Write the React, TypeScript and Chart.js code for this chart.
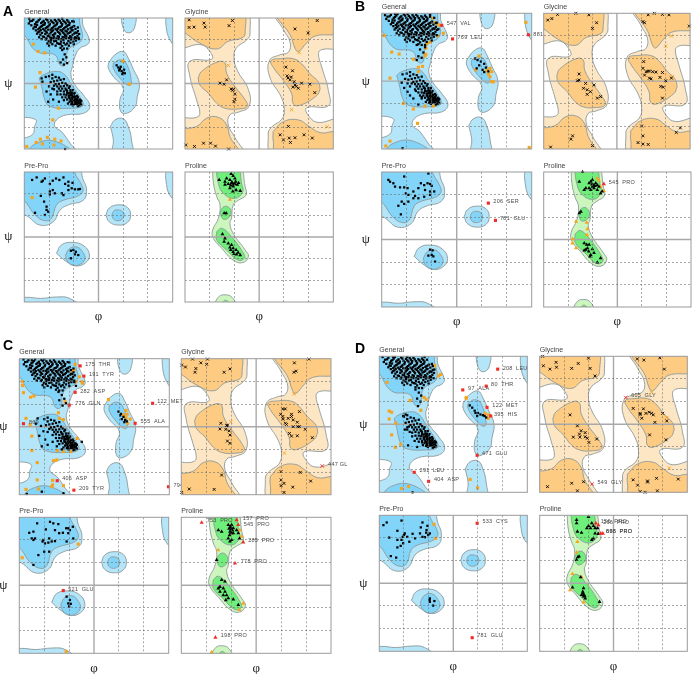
import { useEffect, useRef } from "react";
import { Chart, registerables } from "chart.js";
Chart.register(...registerables);

type P = number[];
type L = [string, number, number];

// ---- allowed (outer) and favoured (inner) contours, in phi/psi degrees
const generalOuter: P[][] = [
  [[-195,195],[-47,195],[-37,157],[-22,120],[-27,107],[-45,97],[-57,74],[-63,47],[-67,24],[-57,-4],[-37,-31],[-21,-63],[-37,-82],[-77,-86],[-102,-100],[-106,-118],[-90,-132],[-69,-164],[-50,-195],[-195,-195],[-195,-160],[-160,-140],[-155,-118],[-152,-100],[-195,-80]],
  [[24,56],[40,79],[60,88],[72,70],[85,38],[99,1],[94,-36],[89,-63],[68,-82],[54,-77],[52,-45],[60,-13],[36,19],[24,42]],
  [[54,195],[87,195],[87,152],[72,139],[60,152]],
  [[29,-118],[40,-100],[60,-97],[72,-118],[80,-155],[80,-195],[36,-195],[36,-155]],
  [[195,195],[170,195],[164,157],[178,111],[195,100]],
  [[195,-165],[170,-195],[195,-195]],
];
const generalInner: P[][] = [
  [[-195,195],[-55,195],[-45,162],[-41,120],[-73,93],[-81,51],[-93,51],[-106,79],[-150,88],[-180,134],[-195,150]],
  [[-144,15],[-134,24],[-106,33],[-85,27],[-65,-4],[-41,-45],[-38,-61],[-65,-68],[-118,-63],[-130,-45],[-138,-8]],
  [[-180,-195],[-150,-164],[-102,-160],[-62,-195]],
  [[36,56],[52,65],[67,56],[80,1],[72,-5],[52,15],[36,42]],
];
const glycineOuter: P[][] = [
  [[-195,195],[-34,195],[-22,139],[-30,120],[-55,98],[-61,70],[-53,36],[-26,-17],[-25,-63],[-51,-79],[-71,-86],[-75,-114],[-59,-148],[-40,-195],[-195,-195],[-195,-102],[-152,-93],[-144,-82],[-152,-45],[-168,19],[-168,61],[-115,67],[-123,93],[-144,107],[-195,102]],
  [[195,-195],[34,-195],[22,-139],[30,-120],[55,-98],[61,-70],[53,-36],[26,17],[25,63],[51,79],[71,86],[75,114],[59,148],[40,195],[195,195],[195,102],[152,93],[144,82],[152,45],[168,-19],[168,-61],[115,-67],[123,-93],[144,-107],[195,-102]],
];
const glycineInner: P[][] = [
  [[-195,195],[-43,195],[-34,139],[-42,125],[-75,116],[-103,95],[-144,111],[-180,139],[-195,150]],
  [[-148,15],[-140,33],[-99,60],[-83,56],[-79,28],[-59,-8],[-34,-45],[-29,-63],[-51,-70],[-83,-68],[-103,-54],[-123,-27],[-144,-4]],
  [[-195,-125],[-152,-118],[-127,-95],[-99,-93],[-79,-114],[-71,-146],[-50,-195],[-195,-195]],
  [[38,195],[44,180],[75,134],[87,97],[95,88],[115,111],[135,130],[180,134],[195,135],[195,195]],
  [[148,-15],[140,-33],[99,-60],[83,-56],[79,-28],[59,8],[34,45],[29,63],[51,68],[83,68],[103,54],[123,27],[144,4]],
  [[34,-132],[59,-105],[95,-100],[119,-116],[148,-135],[180,-132],[195,-132],[195,-195],[44,-195],[34,-155]],
];
const preProOuter: P[][] = [
  [[-195,195],[-52,195],[-37,158],[-29,130],[-37,102],[-73,89],[-93,75],[-110,42],[-142,33],[-170,56],[-195,75]],
  [[18,61],[26,80],[48,89],[70,82],[78,61],[70,40],[48,33],[26,42]],
  [[-102,-45],[-90,-22],[-62,-15],[-35,-25],[-22,-50],[-32,-72],[-56,-80],[-78,-68]],
  [[-195,-172],[-175,-167],[-140,-170],[-100,-166],[-70,-170],[-45,-195],[-195,-195]],
  [[195,190],[168,190],[165,145],[178,108],[195,104]],
];
const preProInner: P[][] = [
  [[-195,195],[-70,195],[-53,167],[-41,144],[-38,126],[-53,112],[-85,102],[-102,89],[-114,52],[-130,45],[-154,61],[-174,93],[-195,120]],
  [[32,60],[38,73],[48,75],[58,71],[62,60],[57,49],[47,45],[37,49]],
  [[-80,-50],[-70,-32],[-52,-28],[-38,-42],[-33,-60],[-45,-76],[-62,-78],[-76,-66]],
];
const prolineOuter: P[][] = [
  [[-113,195],[-49,195],[-34,139],[-32,116],[-50,102],[-63,89],[-67,52],[-71,38],[-63,10],[-34,-36],[-26,-54],[-40,-71],[-63,-64],[-91,-31],[-111,-4],[-113,19],[-99,52],[-95,89],[-103,112],[-111,149]],
  [[-111,-195],[-100,-168],[-85,-160],[-65,-168],[-58,-195]],
];
const prolineInner: P[][] = [
  [[-105,195],[-55,195],[-42,145],[-40,125],[-59,107],[-87,121],[-99,149]],
  [[-95,67],[-88,82],[-76,84],[-68,68],[-76,52],[-88,50]],
  [[-103,15],[-91,24],[-71,6],[-38,-45],[-36,-59],[-51,-64],[-79,-36],[-103,-8]],
  [[-95,-195],[-82,-175],[-68,-195]],
];
const centreV: P[] = [[0,-180],[0,180]];
const centreH: P[] = [[-180,0],[180,0]];

// ---- densely populated areas of the General plots
const coreBeta: P[] = [[-166,171],[-158,176],[-151,168],[-145,174],[-139,166],[-133,172],[-127,177],[-121,168],[-115,173],[-109,166],[-103,171],[-97,176],[-91,167],[-85,172],[-79,165],[-73,170],[-163,160],[-155,156],[-149,161],[-143,153],[-137,158],[-131,162],[-125,155],[-119,160],[-113,152],[-107,158],[-101,163],[-95,155],[-89,159],[-83,152],[-77,157],[-71,161],[-65,154],[-59,158],[-152,146],[-146,141],[-140,147],[-134,150],[-128,143],[-122,148],[-116,140],[-110,146],[-104,150],[-98,142],[-92,147],[-86,140],[-80,145],[-74,149],[-68,142],[-62,146],[-56,140],[-50,144],[-141,134],[-135,129],[-129,136],[-123,131],[-117,126],[-111,133],[-105,138],[-99,130],[-93,135],[-87,128],[-81,133],[-75,137],[-69,130],[-63,134],[-57,127],[-51,131],[-128,121],[-121,116],[-115,120],[-109,124],[-103,117],[-97,122],[-91,115],[-85,120],[-79,124],[-73,117],[-67,121],[-61,115],[-55,118],[-112,108],[-104,104],[-96,109],[-88,103],[-80,107],[-72,104]];
const coreBeta2: P[] = [[-169,165],[-161,172],[-154,163],[-148,170],[-142,178],[-136,169],[-130,166],[-124,174],[-118,164],[-112,169],[-106,175],[-100,167],[-94,172],[-88,163],[-82,169],[-76,174],[-70,166],[-64,171],[-158,151],[-152,155],[-146,149],[-140,156],[-134,161],[-128,152],[-122,157],[-116,148],[-110,154],[-104,160],[-98,151],[-92,156],[-86,149],[-80,155],[-74,160],[-68,152],[-62,156],[-56,150],[-50,154],[-149,137],[-143,143],[-137,139],[-131,146],[-125,140],[-119,135],[-113,143],[-107,136],[-101,146],[-95,139],[-89,144],[-83,137],[-77,143],[-71,139],[-65,147],[-59,137],[-53,139],[-47,136],[-144,127],[-138,122],[-132,128],[-126,124],[-120,130],[-114,125],[-108,129],[-102,124],[-96,128],[-90,122],[-84,127],[-78,130],[-72,125],[-66,127],[-60,123],[-54,125],[-48,122],[-124,110],[-116,113],[-108,116],[-100,111],[-92,108],[-84,112],[-76,110],[-68,112],[-60,108],[-120,104],[-92,98],[-84,96],[-76,96]];
const coreAlpha: P[] = [[-112,14],[-104,18],[-96,16],[-108,6],[-100,8],[-92,10],[-84,12],[-104,-2],[-96,-1],[-88,2],[-80,0],[-92,-8],[-84,-7],[-76,-5],[-88,-14],[-80,-14],[-72,-12],[-76,-20],[-68,-18],[-84,-22],[-72,-27],[-64,-25],[-78,-31],[-68,-33],[-60,-30],[-72,-38],[-64,-39],[-56,-36],[-68,-44],[-60,-45],[-52,-42],[-64,-51],[-56,-51],[-48,-48],[-60,-57],[-52,-57],[-44,-53],[-46,-60],[-66,-57],[-56,-44],[-62,-34],[-50,-50]];
const coreAlpha2: P[] = [[-120,20],[-112,24],[-116,4],[-108,-6],[-100,-8],[-112,-14],[-96,-14],[-92,-20],[-100,-22],[-84,-30],[-92,-30],[-76,-26],[-88,-38],[-80,-38],[-76,-44],[-84,-46],[-70,-50],[-74,-55],[-68,-24],[-58,-26],[-64,-32],[-52,-34],[-58,-40],[-50,-38],[-46,-44],[-62,-43],[-54,-47],[-48,-54],[-42,-48],[-56,-56],[-62,-60],[-50,-62],[-42,-58],[-70,-40],[-66,-47],[-58,-50],[-54,-53],[-64,-55],[-44,-46],[-52,-48],[-60,-36],[-66,-29],[-72,-33],[-78,-18],[-70,-8],[-62,-18]];
const core: P[] = [...coreBeta, ...coreBeta2, ...coreAlpha, ...coreAlpha2];

// ---- panel A
const aGenBlack: P[] = [...core, [-168,178],[-88,178],[-60,170],[-48,125],[-88,92],[-82,80],[-78,72],[-86,66],[-92,58],[-76,56],[-84,52],[-136,5],[-128,18],[-120,-8],[-126,-22],[-116,-30],[-110,-44],[-122,-50],[-96,-50],[-100,-30],[-108,-16],[-138,14],[44,50],[48,44],[52,40],[56,34],[60,30],[54,46],[58,26],[62,38],[50,36],[64,28],[-81,-180]];
const aGenOrange: P[] = [[-158,108],[-146,88],[-130,84],[-142,30],[-153,-10],[-97,-68],[-111,-100],[59,61],[75,-2],[-141,-153],[-151,-162],[-136,-166],[-124,-148],[-106,-153],[-91,-158],[-108,-169],[-174,-173]];
const aGlyBlack: P[] = [[-170,175],[-170,154],[-158,155],[-134,166],[-131,155],[-73,159],[-65,173],[-178,-169],[-157,-173],[-135,-164],[-118,-164],[-106,-172],[-74,-180],[-95,1],[-79,10],[-85,-2],[-65,-19],[-59,-29],[-59,-43],[-61,-50],[87,150],[119,139],[141,173],[65,45],[81,35],[68,21],[75,10],[87,-4],[103,1],[123,-2],[135,-25],[95,-13],[71,-118],[51,-141],[73,-150],[87,-149],[109,-141],[129,-150],[76,-162],[59,-155],[70,15],[78,18],[85,5],[90,-8],[82,-10],[-68,-15],[-62,-16]];
const aGlyOrange: P[] = [[-75,50],[97,85],[79,-72],[165,-119]];
const aPreBlack: P[] = [[-150,165],[-161,158],[-138,153],[-135,156],[-130,162],[-118,147],[-111,156],[-103,162],[-95,158],[-85,165],[-81,147],[-73,153],[-63,150],[-73,142],[-65,135],[-73,130],[-57,132],[-45,133],[-49,132],[-118,126],[-111,130],[-106,121],[-118,118],[-89,121],[-85,116],[-140,114],[-132,98],[-126,84],[-126,75],[-122,70],[-130,61],[-154,67],[-61,-36],[-55,-41],[-67,-38],[-57,-48],[-67,-59],[-49,-50]];
const aPreOrange: P[] = [[-161,109]];
const aProBlack: P[] = [[-97,158],[-68,175],[-63,169],[-79,162],[-83,153],[-71,158],[-59,162],[-67,149],[-75,147],[-59,147],[-53,145],[-63,140],[-71,135],[-64,126],[-56,130],[-46,128],[-83,145],[-50,150],[-66,152],[-62,146],[-57,153],[-69,143],[-85,66],[-80,66],[-89,8],[-83,-4],[-85,-13],[-75,-18],[-67,-22],[-71,-29],[-63,-31],[-56,-36],[-51,-43],[-63,-41],[-46,-50],[-55,-48],[-61,-47],[-69,-36]];
const aProOrange: P[] = [[-71,104]];

// ---- panel B
const bGenBlack: P[] = [...core, [-172,175],[-148,178],[-118,178],[-64,176],[-54,168],[-48,155],[-44,138],[-96,96],[-88,84],[-80,76],[-92,66],[-84,62],[-96,56],[-76,90],[-130,18],[-124,6],[-118,-6],[-132,-4],[-126,-18],[-118,-28],[-112,-38],[-104,-46],[-92,-62],[-84,-42],[-98,-26],[44,60],[50,56],[58,52],[66,46],[70,36],[54,42],[62,30],[48,34],[76,26],[66,24],[-130,-178]];
const bGenOrange: P[] = [[-174,121],[-156,77],[-138,72],[-104,58],[-92,37],[-82,39],[-92,25],[-160,8],[-58,167],[-52,155],[-44,149],[-32,127],[-46,120],[-64,103],[-72,99],[-74,87],[-74,71],[-76,67],[-128,-59],[-104,-74],[-76,-66],[-56,-66],[-94,-112],[-160,-159],[-170,-172],[54,67],[46,30],[72,28],[80,34],[84,25],[76,19],[80,12],[84,-1],[88,-2],[166,156],[174,-176]];
const bGenRed: P[] = [[-10,112],[-36,148],[172,123]];
const bGenLabels: L[] = [["547  VAL",-24,152],["769  LEU",2,116],["881",184,123]];
const bGlyBlack: P[] = [[-170,162],[-160,166],[-146,177],[-101,180],[-69,176],[-50,155],[-60,140],[-93,19],[-97,1],[-93,3],[-77,-6],[-82,-19],[-73,-23],[-56,-10],[-65,-28],[-73,-35],[-48,-45],[-40,-41],[-109,-145],[-113,-154],[-163,-175],[-60,-171],[68,155],[64,158],[77,176],[92,180],[112,177],[128,176],[178,146],[66,52],[64,34],[80,27],[68,16],[80,8],[84,6],[96,24],[112,23],[106,10],[120,1],[134,8],[108,-14],[114,-16],[112,-45],[61,-119],[64,-145],[52,-163],[64,-167],[77,-168],[156,-124],[146,-136],[72,25],[76,26],[88,25]];
const bGlyOrange: P[] = [[134,120],[120,93],[136,12]];
const bPreBlack: P[] = [[-164,159],[-160,154],[-152,150],[-148,141],[-126,168],[-136,139],[-126,139],[-118,137],[-122,123],[-116,119],[-104,128],[-92,137],[-86,150],[-78,145],[-68,176],[-70,150],[-64,148],[-60,143],[-76,132],[-64,128],[-54,128],[-100,116],[-92,110],[-78,114],[-64,119],[-132,101],[-140,90],[-126,95],[-116,101],[-104,110],[-134,67],[-64,-27],[-58,-29],[-68,-43],[-60,-41],[-52,-59],[-56,-45]];
const bPreRed: P[] = [[76,97],[93,51]];
const bPreLabels: L[] = [["206  SER",88,101],["781  GLU",104,55]];
const bProBlack: P[] = [[-85,180],[-93,154],[-77,137],[-81,132],[-69,150],[-61,159],[-65,154],[-53,150],[-49,145],[-61,141],[-57,137],[-69,137],[-45,141],[-49,132],[-37,128],[-41,123],[-65,132],[-62,147],[-58,145],[-55,143],[-93,70],[-89,74],[-81,-10],[-75,-14],[-69,-14],[-77,-27],[-70,-32],[-65,-41],[-57,-36],[-67,-45],[-49,-61],[-41,-50],[-73,-23],[-61,-26],[-81,-29]];
const bProOrange: P[] = [[-49,163],[-45,157],[-33,130],[-41,141],[-101,48],[-75,45],[-73,28],[-74,12],[-109,1],[-110,-10],[-101,-23]];
const bProRed: P[] = [[-33,148]];
const bProLabels: L[] = [["545  PRO",-21,153]];

// ---- panel C
const cGenBlack: P[] = [...core, [-170,178],[-150,176],[-120,178],[-60,170],[-48,118],[-44,108],[-86,92],[-78,84],[-72,74],[-84,70],[-68,62],[-76,56],[-136,22],[-140,8],[-128,2],[-122,-12],[-132,-24],[-118,-34],[-112,-48],[-126,-52],[-100,-40],[-90,-52],[-78,-60],[-30,-40],[58,40],[64,34],[70,26],[74,18],[78,14],[66,20],[72,12],[62,30],[-162,-178],[-126,-172],[-74,-176]];
const cGenOrange: P[] = [[-172,119],[-172,109],[-170,90],[-153,78],[-145,81],[-46,165],[-52,147],[-49,150],[-36,132],[-30,119],[-28,115],[-44,119],[-164,22],[-154,5],[-150,-25],[-150,-63],[-137,-95],[-137,-141],[-164,-166],[-134,-165],[-98,-90],[-90,-88],[-86,37],[-84,22],[-70,66],[-74,19],[-41,-31],[-57,-66],[-74,-66],[-89,-63],[-100,-142],[-100,-154],[-102,-159],[-74,-156],[34,72],[76,43],[79,33],[76,24],[86,20],[80,9],[70,31]];
const cGenRed: P[] = [[-34,161],[-25,134],[-46,91],[-60,57],[-170,8],[140,62],[98,9],[-89,-143],[-49,-168],[178,-159]];
const cGenLabels: L[] = [["175  THR",-22,165],["191  TYR",-13,139],["282  ASP",-34,94],["776  GLN",-46,61],["869",-157,12],["122  MET",151,66],["555  ALA",111,13],["406  ASP",-77,-138],["209  TYR",-37,-164],["794",190,-155]];
const cGlyBlack: P[] = [[-179,163],[-170,158],[-153,179],[-145,154],[-147,144],[-133,169],[-119,165],[-117,179],[-77,144],[-63,153],[-85,9],[-71,3],[-69,4],[-87,-6],[-73,-7],[-65,-11],[-63,-22],[-69,-38],[-63,-44],[-83,-128],[-179,-174],[-161,-165],[-101,-166],[92,169],[96,147],[91,144],[127,179],[64,47],[70,47],[59,33],[64,27],[65,20],[77,22],[85,33],[85,27],[104,40],[70,9],[73,6],[89,18],[99,12],[89,0],[100,0],[104,0],[118,-7],[80,-18],[85,-25],[99,-24],[135,-29],[60,-119],[106,-121],[131,-144],[67,-150],[60,-141],[60,-156],[88,-160],[67,-174]];
const cGlyOrange: P[] = [[-61,13],[91,87],[68,-70]];
const cGlyRed: P[] = [[159,-104]];
const cGlyLabels: L[] = [["447 GL",173,-100]];
const cPreBlack: P[] = [[-137,164],[-156,139],[-146,142],[-150,124],[-142,124],[-146,120],[-124,116],[-122,120],[-116,148],[-106,168],[-98,164],[-86,162],[-94,146],[-84,138],[-75,139],[-67,151],[-62,151],[-58,146],[-62,138],[-51,155],[-50,124],[-66,116],[-108,124],[-102,116],[-94,117],[-110,113],[-118,111],[-134,80],[-120,89],[-108,89],[-146,54],[-66,-30],[-58,-39],[-62,-48],[-56,-49],[-60,-56]];
const cPreOrange: P[] = [[-38,109],[-173,73],[-67,-175]];
const cPreRed: P[] = [[-74,-14]];
const cPreLabels: L[] = [["521  GLU",-62,-11]];
const cProBlack: P[] = [[-91,146],[-83,142],[-67,160],[-63,153],[-59,160],[-55,151],[-63,142],[-59,138],[-55,138],[-47,146],[-43,138],[-67,124],[-59,120],[-63,116],[-40,124],[-65,150],[-60,148],[-61,155],[-57,145],[-64,133],[-95,67],[-83,14],[-75,10],[-87,-4],[-79,-8],[-75,-17],[-87,-17],[-71,-26],[-79,-26],[-67,-34],[-73,-39],[-55,-37],[-43,-52],[-91,-8]];
const cProOrange: P[] = [[-91,93],[-39,146],[-35,129],[-31,-48],[-40,-65],[-107,-177]];
const cProRed: P[] = [[-131,166],[-47,173],[-43,160],[-31,114],[-51,58],[-98,-138]];
const cProLabels: L[] = [["753  PRO",-119,171],["157  PRO",-32,178],["545  PRO",-30,162],["285  PRO",-19,118],["778  PRO",-37,64],["198  PRO",-85,-134]];

// ---- panel D
const dGenBlack: P[] = [...core, [-172,178],[-146,178],[-112,178],[-70,178],[-52,160],[-46,145],[-92,92],[-84,84],[-78,76],[-88,68],[-80,60],[-86,48],[-122,22],[-116,26],[-112,-8],[-118,-14],[-106,-20],[-100,-32],[-94,-44],[-110,-56],[-88,-60],[-76,-48],[40,50],[46,44],[52,36],[60,30],[66,26],[72,24],[76,22],[80,18],[58,22],[54,30],[-99,-180]];
const dGenOrange: P[] = [[-45,155],[-36,128],[-31,132],[-161,111],[-71,71],[-66,66],[-105,63],[-79,37],[-156,35],[-150,32],[-156,14],[-140,3],[-150,-28],[-128,-53],[-141,-61],[32,71],[31,69],[77,29],[85,25],[85,16],[-126,-170],[-109,-165],[41,-146],[59,-168]];
const dGenRed: P[] = [[108,146],[80,101],[23,91],[82,45],[91,22],[58,-82],[-95,-127],[-60,-151]];
const dGenLabels: L[] = [["208  LEU",120,149],["80  THR",92,106],["97  ALA",36,94],["122  MET",95,49],["395  HIS",99,26],["471  GLU",70,-78],["291  LEU",-82,-123],["404  ASP",-47,-146]];
const dGlyBlack: P[] = [[-173,180],[-140,164],[-171,155],[-155,146],[-139,151],[-102,148],[-86,161],[-61,175],[-57,148],[-45,128],[-106,25],[-88,-4],[-79,-17],[-83,-26],[-98,-34],[-82,-34],[-69,-22],[-69,-33],[-64,-37],[-60,-48],[-41,-39],[-161,-165],[-102,-156],[-88,-176],[-73,-152],[58,173],[74,170],[113,176],[124,146],[48,42],[73,41],[65,29],[65,26],[79,29],[87,32],[93,29],[97,25],[69,16],[120,29],[130,9],[101,5],[88,-28],[128,-41],[48,-147],[59,-161],[83,-150],[83,-153],[105,-143],[158,-145],[65,-178],[77,-180],[107,-176]];
const dGlyOrange: P[] = [[93,85],[130,18],[136,-116]];
const dGlyRed: P[] = [[30,71],[-52,-158]];
const dGlyLabels: L[] = [["605  GLY",43,76],["549  GLY",-39,-153]];
const dPreBlack: P[] = [[-170,154],[-162,161],[-126,166],[-136,139],[-75,161],[-79,148],[-63,152],[-65,141],[-66,134],[-57,132],[-61,128],[-118,132],[-120,128],[-123,123],[-99,131],[-112,123],[-93,119],[-75,123],[-69,122],[-136,115],[-126,115],[-122,106],[-107,110],[-128,99],[-136,95],[-152,72],[-139,68],[-156,121],[-81,132],[-57,-40],[-58,-44],[-46,-47],[-49,-59],[-57,-49]];
const dPreOrange: P[] = [[-47,156],[-43,119]];
const dPreRed: P[] = [[58,159],[46,-144]];
const dPreLabels: L[] = [["533  CYS",71,163],["781  GLU",58,-139]];
const dProBlack: P[] = [[-90,168],[-90,159],[-61,176],[-53,159],[-61,152],[-65,146],[-56,146],[-49,152],[-45,146],[-39,146],[-88,137],[-78,134],[-45,132],[-37,131],[-49,119],[-53,115],[-87,69],[-90,62],[-84,71],[-80,16],[-100,-11],[-73,-13],[-75,-22],[-78,-31],[-73,-35],[-69,-40],[-34,-49],[-72,-31],[-74,-27],[-70,-34]];
const dProOrange: P[] = [[-88,110],[-90,82],[-100,25],[-78,16],[-106,-18],[-73,-50]];
const dProRed: P[] = [[-43,159],[-37,154],[-31,132],[-26,132]];
const dProLabels: L[] = [["156  PRO",-31,163],["266  PRO",-25,161],["888  PRO",-18,138],["695  PRO",-18,138]];

const axisTicks = [-180, 0, 180];
const W = 695, H = 674;
const FONT = "'Liberation Sans', Arial, sans-serif";
type Kind = "General" | "Glycine" | "Pre-Pro" | "Proline";
const looks: Record<Kind, any> = {
  General: { outer: generalOuter, inner: generalInner, fo: "#B4E5F8", fi: "#82D5F9", style: "rect", r: 1.6 },
  Glycine: { outer: glycineOuter, inner: glycineInner, fo: "#FDE6C3", fi: "#FDCB82", style: "crossRot", r: 2 },
  "Pre-Pro": { outer: preProOuter, inner: preProInner, fo: "#B4E5F8", fi: "#82D5F9", style: "rect", r: 1.6 },
  Proline: { outer: prolineOuter, inner: prolineInner, fo: "#CDF6BE", fi: "#70EE7C", style: "triangle", r: 2.2 },
};
type PanelDef = { kind: Kind; box: number[]; black: P[]; orange?: P[]; red?: P[]; labels?: L[] };
const panels: PanelDef[] = [
  { kind: "General", box: [24.3,172.7,18,149], black: aGenBlack, orange: aGenOrange },
  { kind: "Glycine", box: [185,333.3,18,149], black: aGlyBlack, orange: aGlyOrange },
  { kind: "Pre-Pro", box: [24.3,172.7,172,302], black: aPreBlack, orange: aPreOrange },
  { kind: "Proline", box: [185,333.3,172,302], black: aProBlack, orange: aProOrange },
  { kind: "General", box: [381.7,531.7,13.3,149], black: bGenBlack, orange: bGenOrange, red: bGenRed, labels: bGenLabels },
  { kind: "Glycine", box: [543.7,693,13.3,149], black: bGlyBlack, orange: bGlyOrange },
  { kind: "Pre-Pro", box: [381.7,531.7,172,307], black: bPreBlack, red: bPreRed, labels: bPreLabels },
  { kind: "Proline", box: [543.7,694,172,307], black: bProBlack, orange: bProOrange, red: bProRed, labels: bProLabels },
  { kind: "General", box: [19.3,169.3,358.7,494.7], black: cGenBlack, orange: cGenOrange, red: cGenRed, labels: cGenLabels },
  { kind: "Glycine", box: [181.3,331,358.7,494.7], black: cGlyBlack, orange: cGlyOrange, red: cGlyRed, labels: cGlyLabels },
  { kind: "Pre-Pro", box: [19.3,168.7,517.3,653.3], black: cPreBlack, orange: cPreOrange, red: cPreRed, labels: cPreLabels },
  { kind: "Proline", box: [181.3,331,517.3,653.3], black: cProBlack, orange: cProOrange, red: cProRed, labels: cProLabels },
  { kind: "General", box: [379.3,527.3,356.3,492.3], black: dGenBlack, orange: dGenOrange, red: dGenRed, labels: dGenLabels },
  { kind: "Glycine", box: [539.7,687.3,356.3,492.3], black: dGlyBlack, orange: dGlyOrange, red: dGlyRed, labels: dGlyLabels },
  { kind: "Pre-Pro", box: [379.3,527.3,515.3,651.3], black: dPreBlack, orange: dPreOrange, red: dPreRed, labels: dPreLabels },
  { kind: "Proline", box: [539.7,687.3,515.3,651.3], black: dProBlack, orange: dProOrange, red: dProRed, labels: dProLabels },
];
const letters: [string, number, number][] = [["A",3,3],["B",355,-2],["C",3,337],["D",355,340]];

const toXY = (pts: P[]) => pts.map(([x, y]) => ({ x, y }));

function region(poly: P[], fill: string) {
  return {
    data: toXY([...poly, poly[0]]), showLine: true, fill: "shape", backgroundColor: fill,
    borderColor: "#8D9A9C", borderWidth: 0.9, tension: 0.45, capBezierPoints: false, pointRadius: 0,
  };
}
function marks(pts: P[], style: string, r: number, color: string) {
  return {
    data: toXY(pts), showLine: false, pointStyle: style, pointRadius: r, clip: false,
    backgroundColor: color, borderColor: color, pointBackgroundColor: color, pointBorderColor: color,
    pointBorderWidth: style === "crossRot" ? 0.9 : 0,
  };
}
function rule(pts: P[]) {
  return { data: toXY(pts), showLine: true, fill: false, borderColor: "#A9A9A9", borderWidth: 1.4, pointRadius: 0 };
}

function Panel({ def }: { def: PanelDef }) {
  const ref = useRef<HTMLCanvasElement>(null);
  useEffect(() => {
    const { kind, box, black, orange = [], red = [], labels = [] } = def;
    const [l, r, t, b] = box;
    const look = looks[kind];
    const leftCol = kind === "General" || kind === "Pre-Pro";
    const lowerRow = kind === "Pre-Pro" || kind === "Proline";
    const tickFont = { size: 5, family: FONT };
    const tickText = (v: any) => (axisTicks.includes(v) ? String(v) : "");
    const gridColor = (c: any) => (c.tick && Math.abs(c.tick.value) % 180 === 0 ? "transparent" : "#6F6F6F");
    const overlay = {
      id: "overlay",
      afterDraw(chart: any) {
        const { ctx, chartArea: a, scales } = chart;
        ctx.save();
        ctx.strokeStyle = "#9A9A9A";
        ctx.lineWidth = 1;
        ctx.strokeRect(a.left, a.top, a.right - a.left, a.bottom - a.top);
        ctx.fillStyle = "#4A4A4A";
        ctx.font = `5.5px ${FONT}`;
        ctx.textBaseline = "middle";
        ctx.textAlign = "left";
        ctx.letterSpacing = "0.25px";
        labels.forEach(([text, x, y]) => ctx.fillText(text, scales.x.getPixelForValue(x), scales.y.getPixelForValue(y)));
        ctx.letterSpacing = "0px";
        ctx.fillStyle = "#222";
        ctx.font = "13px 'Liberation Serif', serif";
        ctx.textAlign = "center";
        if (leftCol) ctx.fillText("ψ", a.left - 16, scales.y.getPixelForValue(0));
        if (lowerRow) ctx.fillText("φ", scales.x.getPixelForValue(0), a.bottom + 15);
        ctx.restore();
      },
    };
    const special = (r0: number) => (kind === "General" || kind === "Pre-Pro" ? r0 : r0 + 0.2);
    const sym = kind === "Glycine" ? "crossRot" : kind === "Proline" ? "triangle" : "rect";
    const chart = new Chart(ref.current!, {
      type: "scatter",
      data: {
        datasets: [
          marks(red, sym, special(2.2), "#F22B26"),
          marks(black, look.style, look.r, "#000000"),
          marks(orange, sym, special(2.2), "#F6A41E"),
          rule(centreV),
          rule(centreH),
          ...look.inner.map((p: P[]) => region(p, look.fi)),
          ...look.outer.map((p: P[]) => region(p, look.fo)),
        ] as any,
      },
      plugins: [overlay],
      options: {
        animation: false,
        responsive: false,
        devicePixelRatio: 1,
        events: [],
        layout: { padding: { left: l, right: W - r, top: t - 10.4, bottom: H - b } },
        plugins: {
          legend: { display: false },
          tooltip: { enabled: false },
          title: {
            display: true, text: kind, align: "start", color: "#444",
            font: { size: 7, family: FONT, weight: "normal", lineHeight: 1.2 }, padding: { top: 0, bottom: 2 },
          },
        },
        scales: {
          x: {
            type: "linear", min: -180, max: 180,
            afterFit: (s: any) => { s.height = 0; s.paddingLeft = 0; s.paddingRight = 0; },
            ticks: { display: lowerRow, stepSize: 60, autoSkip: false, maxRotation: 0, padding: 3, color: "#444", font: tickFont, callback: tickText },
            grid: { color: gridColor, lineWidth: 0.6, drawTicks: false, z: 1 },
            border: { display: false, dash: [2, 2] },
          },
          y: {
            type: "linear", min: -180, max: 180,
            afterFit: (s: any) => { s.width = 0; s.paddingTop = 0; s.paddingBottom = 0; },
            ticks: { display: leftCol, stepSize: 60, autoSkip: false, padding: 3, color: "#444", font: tickFont, callback: tickText },
            grid: { color: gridColor, lineWidth: 0.6, drawTicks: false, z: 1 },
            border: { display: false, dash: [2, 2] },
          },
        },
      } as any,
    });
    return () => chart.destroy();
  }, [def]);
  return <canvas ref={ref} width={W} height={H} style={{ position: "absolute", left: 0, top: 0, display: "block" }} />;
}

export default function App() {
  return (
    <div style={{ position: "absolute", left: 0, top: 0, width: W, height: H, overflow: "hidden", background: "#fff", filter: "blur(0.3px)" }}>
      {panels.map((p, i) => <Panel key={i} def={p} />)}
      {letters.map(([s, x, y]) => (
        <div key={s} style={{ position: "absolute", left: x, top: y, font: `bold 14px ${FONT}`, color: "#000" }}>{s}</div>
      ))}
    </div>
  );
}
